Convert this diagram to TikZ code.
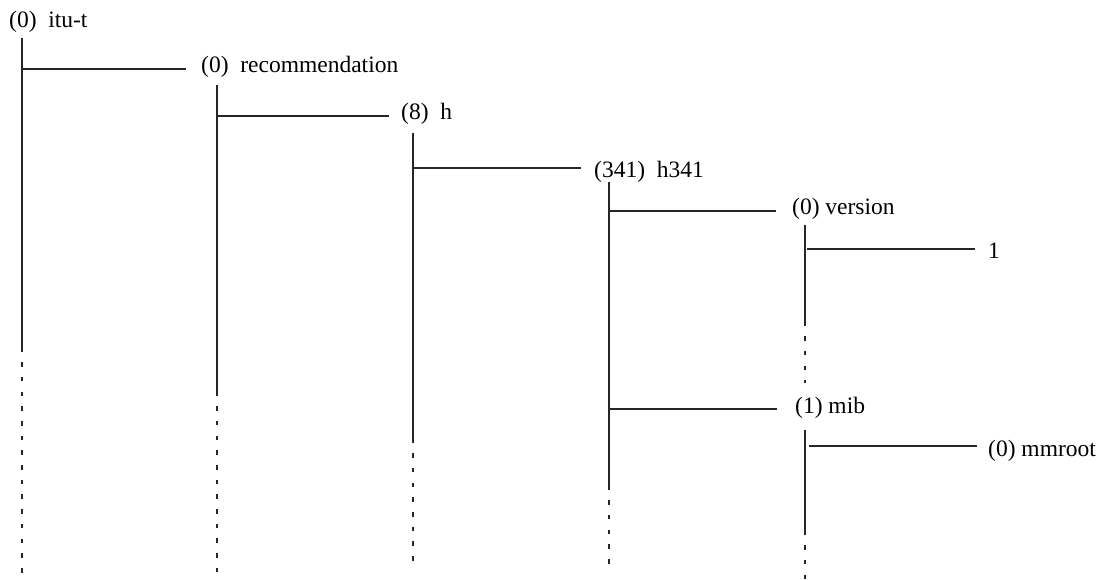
\documentclass[tikz,border=0pt]{standalone}
\usepackage{fontspec}
\setmainfont{Liberation Serif}
\begin{document}
\begin{tikzpicture}[x=1pt,y=-1pt,
  lbl/.style={anchor=base west,inner sep=0pt,font=\fontsize{23.5}{28}\selectfont},
  tree/.style={line width=1.1pt,black!85},
  dots/.style={line width=1.1pt,black!85,dash pattern=on 4.6pt off 10.1pt,dash phase=4.6pt}]
\useasboundingbox (0,0) rectangle (1105,579);
% labels
\node[lbl] (itu)  at (9,27.5)   {(0)~~itu-t};
\node[lbl] (rec)  at (201,72)   {(0)~~recommendation};
\node[lbl] (h)    at (401,119.5){(8)~~h};
\node[lbl] (h341) at (594,177.5){(341)~~h341};
\node[lbl] (ver)  at (792,214)  {(0) version};
\node[lbl] (one)  at (988,258)  {1};
\node[lbl] (mib)  at (795,413)  {(1) mib};
\node[lbl] (mmr)  at (988,456)  {(0) mmroot};
% vertical stems: top, end of solid part, end of dotted part
\coordinate (itu-t) at (22,38);   \coordinate (itu-s) at (22,352);  \coordinate (itu-e) at (22,573);
\coordinate (rec-t) at (217,85);  \coordinate (rec-s) at (217,396); \coordinate (rec-e) at (217,573);
\coordinate (h-t)   at (413,133); \coordinate (h-s)   at (413,443); \coordinate (h-e)   at (413,563);
\coordinate (h341-t) at (609,182);\coordinate (h341-s) at (609,490);\coordinate (h341-e) at (609,566);
\coordinate (ver-t) at (805,225); \coordinate (ver-s) at (805,326); \coordinate (ver-e) at (805,383);
\coordinate (mib-t) at (805,430); \coordinate (mib-s) at (805,535); \coordinate (mib-e) at (805,579);
\foreach \n in {itu,rec,h,h341,ver,mib}{
  \draw[tree] (\n-t) -- (\n-s);
  \draw[dots] (\n-s) -- (\n-e);
}
% branch ends (just left of each child label)
\coordinate (rec-b)  at (186,69);
\coordinate (h-b)    at (389,116);
\coordinate (h341-b) at (581,168);
\coordinate (ver-b)  at (776,211);
\coordinate (one-b)  at (975,249);
\coordinate (mib-b)  at (777,409);
\coordinate (mmr-b)  at (977,446);
\draw[tree] (itu-t |- rec-b) -- (rec-b);
\draw[tree] (rec-t |- h-b) -- (h-b);
\draw[tree] (h-t |- h341-b) -- (h341-b);
\draw[tree] (h341-t |- ver-b) -- (ver-b);
\draw[tree] ([xshift=2pt]ver-t |- one-b) -- (one-b);
\draw[tree] (h341-t |- mib-b) -- (mib-b);
\draw[tree] ([xshift=4pt]mib-t |- mmr-b) -- (mmr-b);
\end{tikzpicture}
\end{document}
